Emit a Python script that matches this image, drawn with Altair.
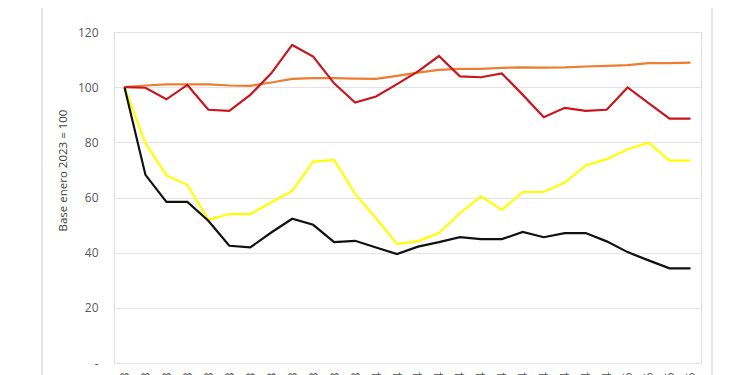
import altair as alt
import pandas as pd

months = ["ene", "feb", "mar", "abr", "may", "jun", "jul", "ago", "sep", "oct", "nov", "dic"]
periods = [f"{m}-{y}" for y in ["23", "24"] for m in months] + ["ene-25", "feb-25", "mar-25", "abr-25"]

serie_naranja = [100, 100.6, 101, 101, 101, 100.6, 100.5, 101.7, 103, 103.3, 103.3, 103.1, 103, 104.1,
                 105.3, 106.3, 106.6, 106.6, 107, 107.2, 107.1, 107.2, 107.5, 107.7, 108, 108.7, 108.7, 108.9]
serie_roja = [100, 99.8, 95.6, 100.8, 91.8, 91.4, 97.2, 105, 115.3, 111.1, 101.4, 94.4, 96.6, 101.1,
              105.7, 111.3, 103.9, 103.6, 105, 97.2, 89.1, 92.5, 91.4, 91.8, 99.9, 94.2, 88.6, 88.6]
serie_amarilla = [100, 79.7, 68, 64.6, 51.9, 54, 54, 58.2, 62.4, 73, 73.6, 61.3, 52.5, 43.1,
                  44.2, 47.1, 54.3, 60.4, 55.5, 62, 62, 65.4, 71.6, 73.9, 77.5, 79.9, 73.4, 73.4]
serie_negra = [100, 68.2, 58.4, 58.4, 51.6, 42.5, 41.9, 47.3, 52.3, 50.1, 43.8, 44.3, 41.9, 39.5,
               42.2, 43.8, 45.6, 44.9, 44.9, 47.5, 45.6, 47.1, 47.1, 44.1, 40.2, 37.2, 34.3, 34.3]

series_names = ["Serie 1", "Serie 2", "Serie 3", "Serie 4"]
series_values = [serie_naranja, serie_roja, serie_amarilla, serie_negra]
series_colors = ["#ED7D31", "#C8161D", "#FFFF00", "#111111"]

rows = []
for k, (name, vals) in enumerate(zip(series_names, series_values)):
    for p, v in zip(periods, vals):
        rows.append({"periodo": p, "valor": v, "serie": name, "orden": k})
df = pd.DataFrame(rows)

lines = alt.Chart(df).mark_line(strokeWidth=2.2).encode(
    x=alt.X("periodo:O", sort=periods,
            scale=alt.Scale(type="point", padding=0.5),
            axis=alt.Axis(title=None, labelAngle=-90, labelFontSize=12, labelColor="#595959",
                          labelFont="Open Sans", ticks=False, domain=False, labelPadding=9,
                          labelBaseline="middle")),
    y=alt.Y("valor:Q", scale=alt.Scale(domain=[0, 120], nice=False),
            axis=alt.Axis(title="Base enero 2023 = 100", values=[0, 20, 40, 60, 80, 100, 120],
                          labelExpr="datum.value == 0 ? '-' : datum.label",
                          labelFontSize=12, labelColor="#595959", labelFont="Open Sans",
                          labelPadding=16, ticks=False, domain=False,
                          gridColor="#e3e3e3", gridWidth=1,
                          titleFont="Open Sans", titleFontSize=11.5, titleFontWeight="normal",
                          titleColor="#404040", titleX=-51, titleY=138, titleBaseline="middle")),
    color=alt.Color("serie:N", scale=alt.Scale(domain=series_names, range=series_colors), legend=None),
    order=alt.Order("orden:Q"),
    detail="serie:N",
)

one = pd.DataFrame({"k": [0]})
frame_left = alt.Chart(one).mark_rule(color="#dcdcdc", strokeWidth=1.5).encode(
    x=alt.value(-72), y=alt.value(-40), y2=alt.value(420))
frame_right = alt.Chart(one).mark_rule(color="#dcdcdc", strokeWidth=1.5).encode(
    x=alt.value(598), y=alt.value(-40), y2=alt.value(420))

chart = alt.layer(lines, frame_left, frame_right).properties(
    width=587, height=331,
    autosize=alt.AutoSizeParams(type="none"),
    padding={"left": 106, "top": 24, "right": 30, "bottom": 60},
).configure_view(stroke=None).configure(background="white")

chart.save("out.html", embed_options={"renderer": "svg", "actions": False})
